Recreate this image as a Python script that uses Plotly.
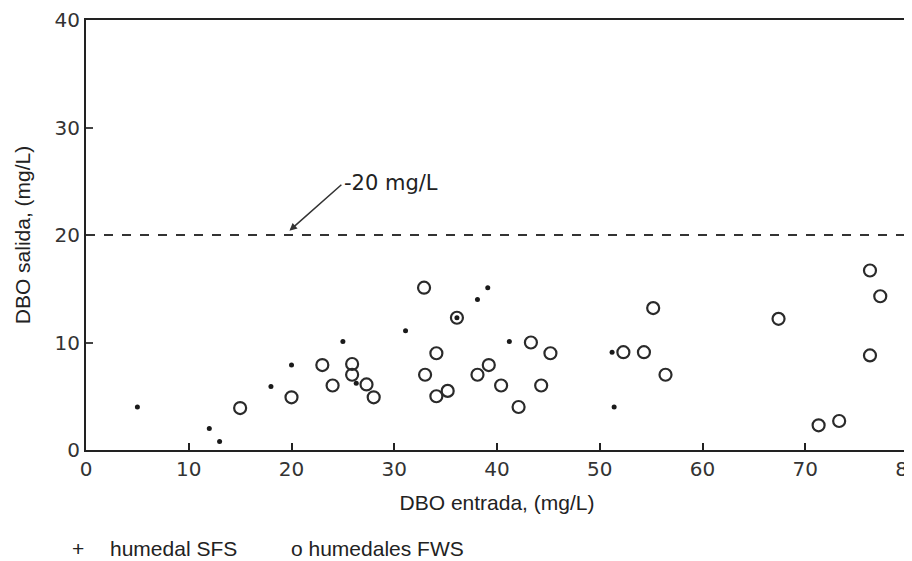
import plotly.graph_objects as go

# humedal SFS (+)
sfs_x = [5, 12, 13, 18, 20, 25, 26.3, 31.1, 36.1, 38.1, 39.1, 41.2, 51.2, 51.4]
sfs_y = [4, 2, 0.8, 5.9, 7.9, 10.1, 6.2, 11.1, 12.3, 14, 15.1, 10.1, 9.1, 4.0]

# humedales FWS (o)
fws_x = [15, 20, 23, 24, 25.9, 25.9, 27.3, 28, 32.9, 33, 34.1, 34.1, 35.2, 36.1,
         38.1, 39.2, 40.4, 42.1, 43.3, 44.3, 45.2, 52.3, 54.3, 55.2, 56.4,
         67.4, 71.3, 73.3, 76.3, 77.3, 76.3]
fws_y = [3.9, 4.9, 7.9, 6, 8, 7, 6.1, 4.9, 15.1, 7, 9, 5, 5.5, 12.3,
         7, 7.9, 6, 4, 10, 6, 9, 9.1, 9.1, 13.2, 7,
         12.2, 2.3, 2.7, 16.7, 14.3, 8.8]

x_ticks = [0, 10, 20, 30, 40, 50, 60, 70, 80]
y_ticks = [0, 10, 20, 30, 40]
limit_value = 20

fig = go.Figure()
fig.add_trace(go.Scatter(
    x=fws_x, y=fws_y, mode="markers", name="humedales FWS",
    marker=dict(symbol="circle-open", size=12, color="#2a2a2a", line=dict(width=2.2)),
    showlegend=False))
fig.add_trace(go.Scatter(
    x=sfs_x, y=sfs_y, mode="markers", name="humedal SFS",
    marker=dict(symbol="circle", size=5, color="#1a1a1a"),
    showlegend=False))

fig.add_shape(type="line", x0=0, x1=80, y0=limit_value, y1=limit_value,
              xref="x", yref="y",
              line=dict(color="#333333", width=2, dash="dash"))

fig.add_annotation(x=19.8, y=20.4, ax=25.0, ay=24.8, axref="x", ayref="y",
                   xref="x", yref="y", text="", showarrow=True,
                   arrowhead=2, arrowsize=1, arrowwidth=1.5, arrowcolor="#333333")
fig.add_annotation(x=24.9, y=24.8, xref="x", yref="y", text="-20 mg/L",
                   showarrow=False, xanchor="left", yanchor="middle",
                   font=dict(family="DejaVu Sans", size=21, color="#222222"))

legend_font = dict(family="Liberation Sans", size=21, color="#222222")
fig.add_annotation(xref="paper", yref="paper", x=-0.0097, y=-0.228,
                   text="+", showarrow=False, xanchor="center", yanchor="middle",
                   font=legend_font)
fig.add_annotation(xref="paper", yref="paper", x=0.0267, y=-0.228,
                   text="humedal SFS", showarrow=False, xanchor="left", yanchor="middle",
                   font=legend_font)
fig.add_annotation(xref="paper", yref="paper", x=0.247, y=-0.228,
                   text="o humedales FWS", showarrow=False, xanchor="left", yanchor="middle",
                   font=legend_font)

fig.update_xaxes(range=[0, 80], tickvals=x_ticks, ticktext=[str(v) for v in x_ticks],
                 ticks="inside", ticklen=7, tickwidth=1.5, tickcolor="#222",
                 showline=True, linewidth=2, linecolor="#222", mirror=True,
                 showgrid=False, zeroline=False, automargin=False,
                 ticklabeloverflow="allow",
                 tickfont=dict(family="DejaVu Sans", size=20, color="#333"),
                 title=dict(text="DBO entrada, (mg/L)", standoff=15,
                            font=dict(family="Liberation Sans", size=21, color="#222")))
fig.update_yaxes(range=[0, 40], tickvals=y_ticks, ticktext=[str(v) for v in y_ticks],
                 ticks="inside", ticklen=7, tickwidth=1.5, tickcolor="#444",
                 showline=True, linewidth=2, linecolor="#222", mirror=True,
                 showgrid=False, zeroline=False, automargin=False,
                 tickfont=dict(family="DejaVu Sans", size=20, color="#333"),
                 title=dict(text="DBO salida, (mg/L)", standoff=18,
                            font=dict(family="Liberation Sans", size=21, color="#222")))

# page body adds an 8px offset, so the figure is sized to fill the 912x561 window
fig.update_layout(width=904, height=553, margin=dict(l=78, r=4, t=12, b=111),
                  plot_bgcolor="white", paper_bgcolor="white")

fig.write_html("out.html")
